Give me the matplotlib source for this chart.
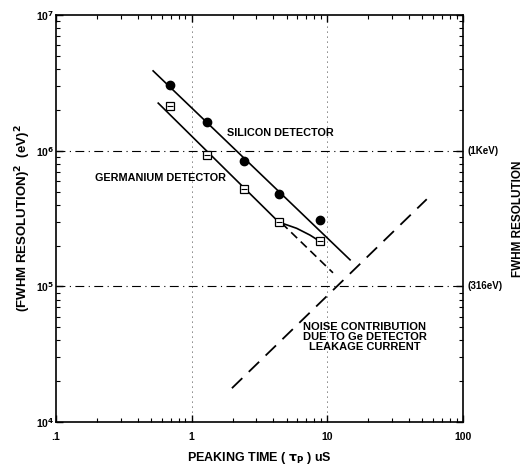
import numpy as np
import matplotlib
matplotlib.use('Agg')
from matplotlib import pyplot as plt
from matplotlib.ticker import LogLocator, NullFormatter, FixedLocator

# measured points
si_x = [0.69, 1.29, 2.44, 4.38, 8.8]
si_y = [3.04e6, 1.63e6, 8.4e5, 4.83e5, 3.1e5]
ge_x = [0.69, 1.29, 2.44, 4.38, 8.8]
ge_y = [2.13e6, 9.27e5, 5.26e5, 2.98e5, 2.15e5]

# fitted curves
si_fit_x = [0.52, 14.7]
si_fit_y = [3.87e6, 1.57e5]
ge_fit_x = [0.567, 4.38, 5.94, 7.44, 8.8]
ge_fit_y = [2.24e6, 2.98e5, 2.68e5, 2.39e5, 2.15e5]
ge_ext_x = [4.6, 11.0]
ge_ext_y = [2.93e5, 1.26e5]
noise_x = [1.98, 54.0]
noise_y = [1.78e4, 4.39e5]

plt.rcParams['font.family'] = ['Liberation Sans', 'DejaVu Sans']
plt.rcParams['font.weight'] = 'bold'
plt.rcParams['axes.labelweight'] = 'bold'
plt.rcParams['mathtext.default'] = 'bf'

fig = plt.figure(figsize=(5.28, 4.66), dpi=100)
ax = fig.add_axes([0.106, 0.094, 0.771, 0.874])
ax.set_xscale('log')
ax.set_yscale('log')
ax.set_xlim(0.1, 100)
ax.set_ylim(1e4, 1e7)

# grid lines
for yv in [1e5, 1e6]:
    ax.axhline(yv, color='black', lw=0.8, ls=(0, (8, 4, 1, 4)), zorder=1)
for xv in [1, 10]:
    ax.axvline(xv, color='black', lw=0.6, ls=(0, (1, 5)), zorder=1)

ax.plot(si_fit_x, si_fit_y, color='black', lw=1.2)
ax.plot(ge_fit_x, ge_fit_y, color='black', lw=1.2)
ax.plot(ge_ext_x, ge_ext_y, color='black', lw=1.2, ls=(0, (5, 3)))
ax.plot(noise_x, noise_y, color='black', lw=1.3, ls=(0, (8, 5)))

ax.plot(si_x, si_y, 'o', color='black', ms=6, zorder=5)
ax.plot(ge_x, ge_y, 's', mfc='white', mec='black', mew=0.9, ms=5.5, zorder=5)
ax.plot(ge_x, ge_y, '_', color='black', mew=0.8, ms=4.5, zorder=6)

ax.text(1.81, 1.36e6, 'SILICON DETECTOR', fontsize=7.8, ha='left', va='center')
ax.text(1.8, 6.3e5, 'GERMANIUM DETECTOR', fontsize=7.8, ha='right', va='center')
ax.text(18.9, 4.24e4, 'NOISE CONTRIBUTION\nDUE TO Ge DETECTOR\nLEAKAGE CURRENT',
        fontsize=8, ha='center', va='center', linespacing=1.05)

ax.text(1.01, 2 / 3, '(1KeV)', transform=ax.transAxes, fontsize=7, ha='left', va='center')
ax.text(1.01, 1 / 3, '(316eV)', transform=ax.transAxes, fontsize=7, ha='left', va='center')
fig.text(0.982, 0.53, 'FWHM RESOLUTION', rotation=90, fontsize=8.5, ha='center', va='center')

ax.xaxis.set_major_locator(FixedLocator([0.1, 1, 10, 100]))
ax.set_xticklabels(['.1', '1', '10', '100'])
ax.yaxis.set_major_locator(FixedLocator([1e4, 1e5, 1e6, 1e7]))
ax.set_yticklabels(['10$^4$', '10$^5$', '10$^6$', '10$^7$'])
ax.xaxis.set_minor_locator(LogLocator(base=10, subs=np.arange(2, 10)))
ax.yaxis.set_minor_locator(LogLocator(base=10, subs=np.arange(2, 10)))
ax.xaxis.set_minor_formatter(NullFormatter())
ax.yaxis.set_minor_formatter(NullFormatter())
ax.tick_params(which='both', direction='in', top=True, right=True, labelsize=7.5)
ax.tick_params(which='major', length=5, width=1)
ax.tick_params(which='minor', length=3, width=0.8)
ax.tick_params(axis='y', pad=1)
ax.tick_params(axis='x', pad=7)
for s in ax.spines.values():
    s.set_linewidth(1.2)

ax.set_xlabel('PEAKING TIME ( $\\tau_{P}$ ) uS', fontsize=9, labelpad=6)
ax.set_ylabel('(FWHM RESOLUTION)$^2$  (eV)$^2$', fontsize=9.5, labelpad=2)

plt.savefig('out.png', dpi=100)
